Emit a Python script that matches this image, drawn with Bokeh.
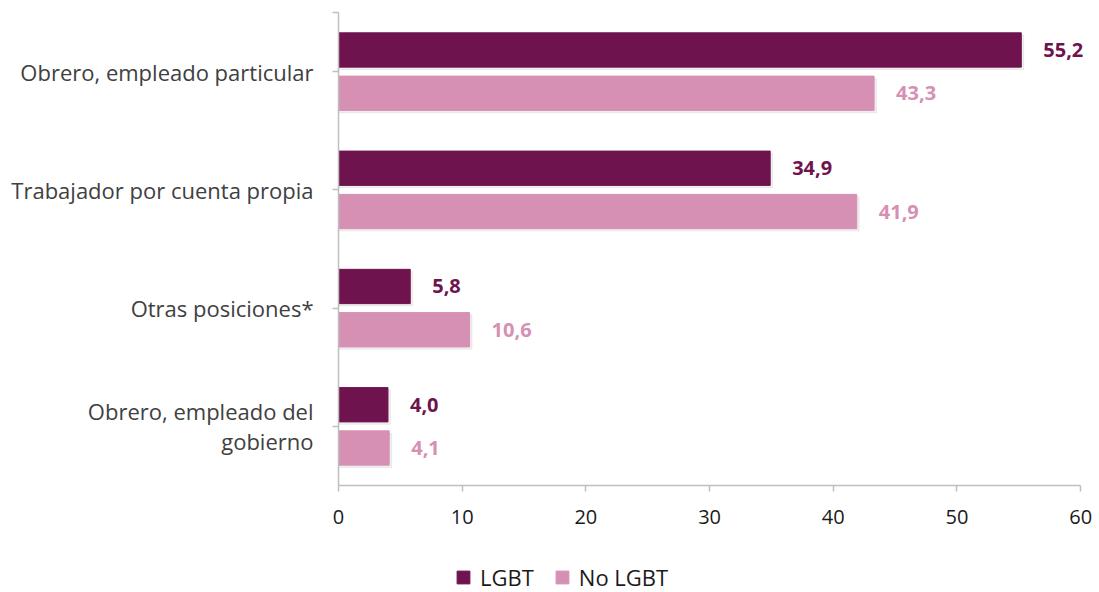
from bokeh.plotting import figure
from bokeh.layouts import column
from bokeh.models import (ColumnDataSource, LabelSet, Legend, LegendItem,
                          FixedTicker, Range1d)
from bokeh.core.properties import value
from bokeh.embed import file_html
from bokeh.resources import INLINE

# ---- data ----
categories = ["Obrero, empleado particular", "Trabajador por cuenta propia",
              "Otras posiciones*", "Obrero, empleado del\ngobierno"]
lgbt = [55.2, 34.9, 5.8, 4.0]
no_lgbt = [43.3, 41.9, 10.6, 4.1]
series_names = ["LGBT", "No LGBT"]
x_ticks = [0, 10, 20, 30, 40, 50, 60]

DARK = "#6F134E"
LIGHT = "#D690B3"
AXIS = "#BFBFBF"
FONT = "Open Sans"

n = len(categories)
centers = [n - 0.5 - i for i in range(n)]  # top category first
off = 0.183
bh = 0.29

def fmt(v):
    return f"{v:.1f}".replace(".", ",")

src_a = ColumnDataSource(dict(y=[c + off for c in centers], v=lgbt,
                              lab=[fmt(v) for v in lgbt]))
src_b = ColumnDataSource(dict(y=[c - off for c in centers], v=no_lgbt,
                              lab=[fmt(v) for v in no_lgbt]))
sh_a = ColumnDataSource(dict(y=[c + off - 0.02 for c in centers], v=[v + 0.2 for v in lgbt]))
sh_b = ColumnDataSource(dict(y=[c - off - 0.02 for c in centers], v=[v + 0.2 for v in no_lgbt]))

W = 1099
# range extends a little past 60 so value labels are not clipped; axis is bounded at 60
p = figure(width=W, height=545, output_backend="svg", toolbar_location=None,
           x_range=Range1d(0, 61.2), y_range=Range1d(0, n),
           min_border_left=338, min_border_right=4, min_border_top=12,
           min_border_bottom=60)
p.outline_line_color = None
p.xgrid.visible = False
p.ygrid.visible = False

# shadows
p.hbar(y="y", left=0, right="v", height=bh, source=sh_a, color="#000000", alpha=0.06)
p.hbar(y="y", left=0, right="v", height=bh, source=sh_b, color="#000000", alpha=0.06)

r1 = p.hbar(y="y", left=0, right="v", height=bh, source=src_a, color=DARK)
r2 = p.hbar(y="y", left=0, right="v", height=bh, source=src_b, color=LIGHT)

for src, col in ((src_a, DARK), (src_b, LIGHT)):
    p.add_layout(LabelSet(x="v", y="y", text="lab", source=src, x_offset=22,
                          text_align="left", text_baseline="middle",
                          text_font=value(FONT), text_font_style="bold",
                          text_font_size="20px", text_color=col))

# axes
xa = p.xaxis[0]
xa.ticker = FixedTicker(ticks=x_ticks)
xa.bounds = (x_ticks[0], x_ticks[-1])
xa.axis_line_color = AXIS
xa.axis_line_width = 1.5
xa.major_tick_line_color = AXIS
xa.major_tick_line_width = 1.5
xa.major_tick_in = 0
xa.major_tick_out = 6
xa.minor_tick_line_color = None
xa.major_label_text_font = FONT
xa.major_label_text_font_size = "20px"
xa.major_label_text_color = "#1a1a1a"
xa.major_label_standoff = 18

ya = p.yaxis[0]
ya.ticker = FixedTicker(ticks=centers + [n])
overrides = {c: name for c, name in zip(centers, categories)}
overrides[n] = ""
ya.major_label_overrides = overrides
ya.axis_line_color = AXIS
ya.axis_line_width = 1.5
ya.major_tick_line_color = AXIS
ya.major_tick_line_width = 1.5
ya.major_tick_in = 0
ya.major_tick_out = 6
ya.minor_tick_line_color = None
ya.major_label_text_font = FONT
ya.major_label_text_font_size = "22px"
ya.major_label_text_color = "#404040"
ya.major_label_standoff = 19
ya.major_label_text_line_height = 1.0

# legend in a strip below (swatch renderers sit outside the strip's visible range)
lg = figure(width=W, height=47, output_backend="svg", toolbar_location=None,
            x_axis_location=None, y_axis_location=None,
            min_border_left=0, min_border_right=0, min_border_top=0,
            min_border_bottom=0, x_range=Range1d(0, 1), y_range=Range1d(0, 1))
lg.outline_line_color = None
lg.xgrid.visible = False
lg.ygrid.visible = False
swatch = ColumnDataSource(dict(y=[-10], v=[1]))
d1 = lg.hbar(y="y", left=0, right="v", height=1, source=swatch, color=DARK)
d2 = lg.hbar(y="y", left=0, right="v", height=1, source=swatch, color=LIGHT)
legend = Legend(items=[LegendItem(label=series_names[0], renderers=[d1]),
                       LegendItem(label=series_names[1], renderers=[d2])],
                orientation="horizontal", location=(117, 0),
                padding=0, margin=0, spacing=20, label_standoff=9,
                glyph_width=16, glyph_height=16, label_height=16,
                label_text_font=FONT, label_text_font_size="22px",
                label_text_color="#1a1a1a",
                border_line_alpha=0, background_fill_alpha=0)
lg.add_layout(legend, "center")

layout = column(p, lg, spacing=0)
open("out.html", "w").write(file_html(layout, INLINE))
